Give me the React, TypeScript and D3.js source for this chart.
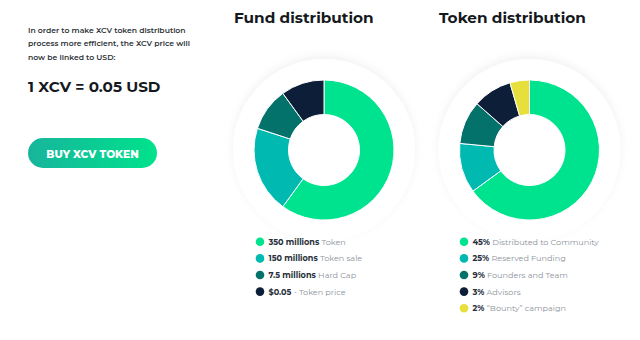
import React, { useEffect, useRef } from 'react';
import * as d3 from 'd3';

// fund chart
const fundLabels = ['350 millions', '150 millions', '7.5 millions', '$0.05'];
const fundNotes = ['Token', 'Token sale', 'Hard Cap', '- Token price'];
const fundShares = [60, 20, 10, 10];

// token chart
const tokenLabels = ['45%', '25%', '9%', '3%', '2%'];
const tokenNotes = ['Distributed to Community', 'Reserved Funding', 'Founders and Team', 'Advisors', '\u201cBounty\u201d campaign'];
const tokenShares = [65, 11.5, 10, 9, 4.5];

const colors = ['#00e38e', '#00b9b1', '#03726b', '#0d1e38', '#e6df3c'];

const introLines = [
	'In order to make XCV token distribution',
	'process more efficient, the XCV price will',
	'now be linked to USD:',
];

const FONT = 'Montserrat, "Open Sans", Lato, sans-serif';

export default function App() {
	const ref = useRef<SVGSVGElement>(null);

	useEffect(() => {
		const svg = d3.select(ref.current);
		svg.selectAll('*').remove();

		const defs = svg.append('defs');
		const grad = defs.append('linearGradient').attr('id', 'btn').attr('x1', '0').attr('x2', '1');
		grad.append('stop').attr('offset', '0').attr('stop-color', '#17b59c');
		grad.append('stop').attr('offset', '1').attr('stop-color', '#00e28c');
		const f = defs.append('filter').attr('id', 'soft').attr('x', '-30%').attr('y', '-30%').attr('width', '160%').attr('height', '160%');
		f.append('feDropShadow').attr('dx', 0).attr('dy', -3).attr('stdDeviation', 4)
			.attr('flood-color', '#000').attr('flood-opacity', 0.055);

		// left text block
		const left = svg.append('g').attr('font-family', FONT);
		left.selectAll('text.intro')
			.data(introLines)
			.enter()
			.append('text')
			.attr('class', 'intro')
			.attr('x', 28)
			.attr('y', (d, i) => 33 + i * 13.3)
			.attr('font-size', 7.7)
			.attr('font-weight', 600)
			.attr('fill', '#2e3338')
			.text((d) => d);
		left.append('text')
			.attr('x', 28).attr('y', 92)
			.attr('font-size', 15.2).attr('font-weight', 700)
			.attr('fill', '#15191e')
			.text('1 XCV = 0.05 USD');
		left.append('rect')
			.attr('x', 28).attr('y', 138).attr('width', 129).attr('height', 30).attr('rx', 15)
			.attr('fill', 'url(#btn)');
		left.append('text')
			.attr('x', 92.5).attr('y', 157.5)
			.attr('text-anchor', 'middle')
			.attr('font-size', 10.6).attr('font-weight', 800)
			.attr('fill', '#fff')
			.text('BUY XCV TOKEN');

		function donut(cx: number, title: string, titleX: number, shares: number[], labels: string[], notes: string[], legendX: number) {
			const g = svg.append('g').attr('font-family', FONT);
			g.append('text')
				.attr('x', titleX).attr('y', 23)
				.attr('font-size', 15.3).attr('font-weight', 700)
				.attr('fill', '#15191e')
				.text(title);

			const cy = 150;
			g.append('circle').attr('cx', cx).attr('cy', cy).attr('r', 91)
				.attr('fill', '#fff').attr('filter', 'url(#soft)');

			const pie = d3.pie<number>().sort(null).value((d) => d);
			const arc = d3.arc<d3.PieArcDatum<number>>().innerRadius(35.5).outerRadius(70);
			g.append('g')
				.attr('transform', `translate(${cx},${cy})`)
				.selectAll('path')
				.data(pie(shares))
				.enter()
				.append('path')
				.attr('d', arc)
				.attr('fill', (d, i) => colors[i])
				.attr('stroke', '#fff')
				.attr('stroke-width', 1);

			const rows = g.selectAll('g.row')
				.data(labels)
				.enter()
				.append('g')
				.attr('class', 'row')
				.attr('transform', (d, i) => `translate(${legendX},${241.8 + i * 16.6})`);
			rows.append('circle').attr('r', 4.3).attr('fill', (d, i) => colors[i]);
			const t = rows.append('text').attr('x', 8.5).attr('y', 3).attr('font-size', 8.1);
			t.append('tspan').attr('font-weight', 700).attr('fill', '#27303b').text((d) => d + ' ');
			t.append('tspan').attr('fill', '#8d939b').text((d, i) => notes[i]);
		}

		donut(324, 'Fund distribution', 234, fundShares, fundLabels, fundNotes, 260);
		donut(529.5, 'Token distribution', 439, tokenShares, tokenLabels, tokenNotes, 464);
	}, []);

	return (
		<svg ref={ref} width={640} height={340}
			style={{ position: 'absolute', left: 0, top: 0, background: '#fff' }} />
	);
}
